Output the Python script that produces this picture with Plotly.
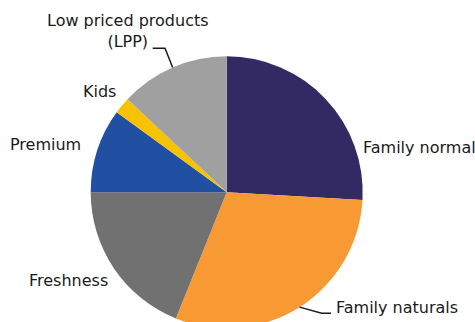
import math
import plotly.graph_objects as go

# ---- data ----
categories = ["Family normal", "Family naturals", "Freshness", "Premium", "Kids",
              "Low priced products<br>(LPP)"]
shares = [25.9, 30.2, 18.9, 10.0, 2.0, 13.0]
colors = ["#332963", "#F89A34", "#717171", "#2150A3", "#F7C200", "#A0A0A0"]

W, H = 475, 330
CX, CY, R = 226.7, 192.3, 136.0  # pie centre / radius in px (from top-left)

def px(x):
    return x / W

def py(y):
    return (H - y) / H

fig = go.Figure(go.Pie(
    labels=categories,
    values=shares,
    sort=False,
    direction="clockwise",
    rotation=0,
    marker=dict(colors=colors, line=dict(width=0)),
    textinfo="none",
    hoverinfo="label+percent",
    domain=dict(x=[px(CX - R), px(CX + R)], y=[py(CY + R), py(CY - R)]),
    showlegend=False,
))

# label positions (px), anchors
label_pos = {
    0: (360.5, 147, "left"),
    1: (333.5, 307, "left"),
    2: (26.5, 280, "left"),
    3: (7.5, 144, "left"),
    4: (80.5, 91, "left"),
    5: (128, 31, "center"),
}
font = dict(family="DejaVu Sans, Verdana, sans-serif", size=16, color="#1a1a1a")
for i, (x, y, anc) in label_pos.items():
    fig.add_annotation(x=px(x), y=py(y), xref="paper", yref="paper",
                       text=categories[i], showarrow=False, xanchor=anc,
                       yanchor="middle", align="center", font=font)

# leader lines from slice mid-angles
total = sum(shares)
cum = 0
mids = []
for v in shares:
    mids.append((cum + v / 2) / total * 2 * math.pi)
    cum += v

def edge(i):
    a = mids[i]
    return CX + R * math.sin(a), CY - R * math.cos(a)

# LPP leader
ex, ey = edge(5)
pts = [(ex, ey), (165, 48.3), (152.7, 48.3)]
path = "M " + " L ".join(f"{px(x)},{py(y)}" for x, y in pts)
fig.add_shape(type="path", path=path, xref="paper", yref="paper",
              line=dict(color="#1a1a1a", width=1.5))
# Family naturals leader
ex, ey = edge(1)
pts = [(ex, ey), (321.7, 313.3), (331, 313.3)]
path = "M " + " L ".join(f"{px(x)},{py(y)}" for x, y in pts)
fig.add_shape(type="path", path=path, xref="paper", yref="paper",
              line=dict(color="#1a1a1a", width=1.5))

fig.update_layout(
    width=W, height=H,
    margin=dict(l=0, r=0, t=0, b=0),
    paper_bgcolor="white",
    plot_bgcolor="white",
)

fig.write_html("out.html", config={"displayModeBar": False},
               post_script="document.body.style.overflow='hidden';document.documentElement.style.overflow='hidden';")
